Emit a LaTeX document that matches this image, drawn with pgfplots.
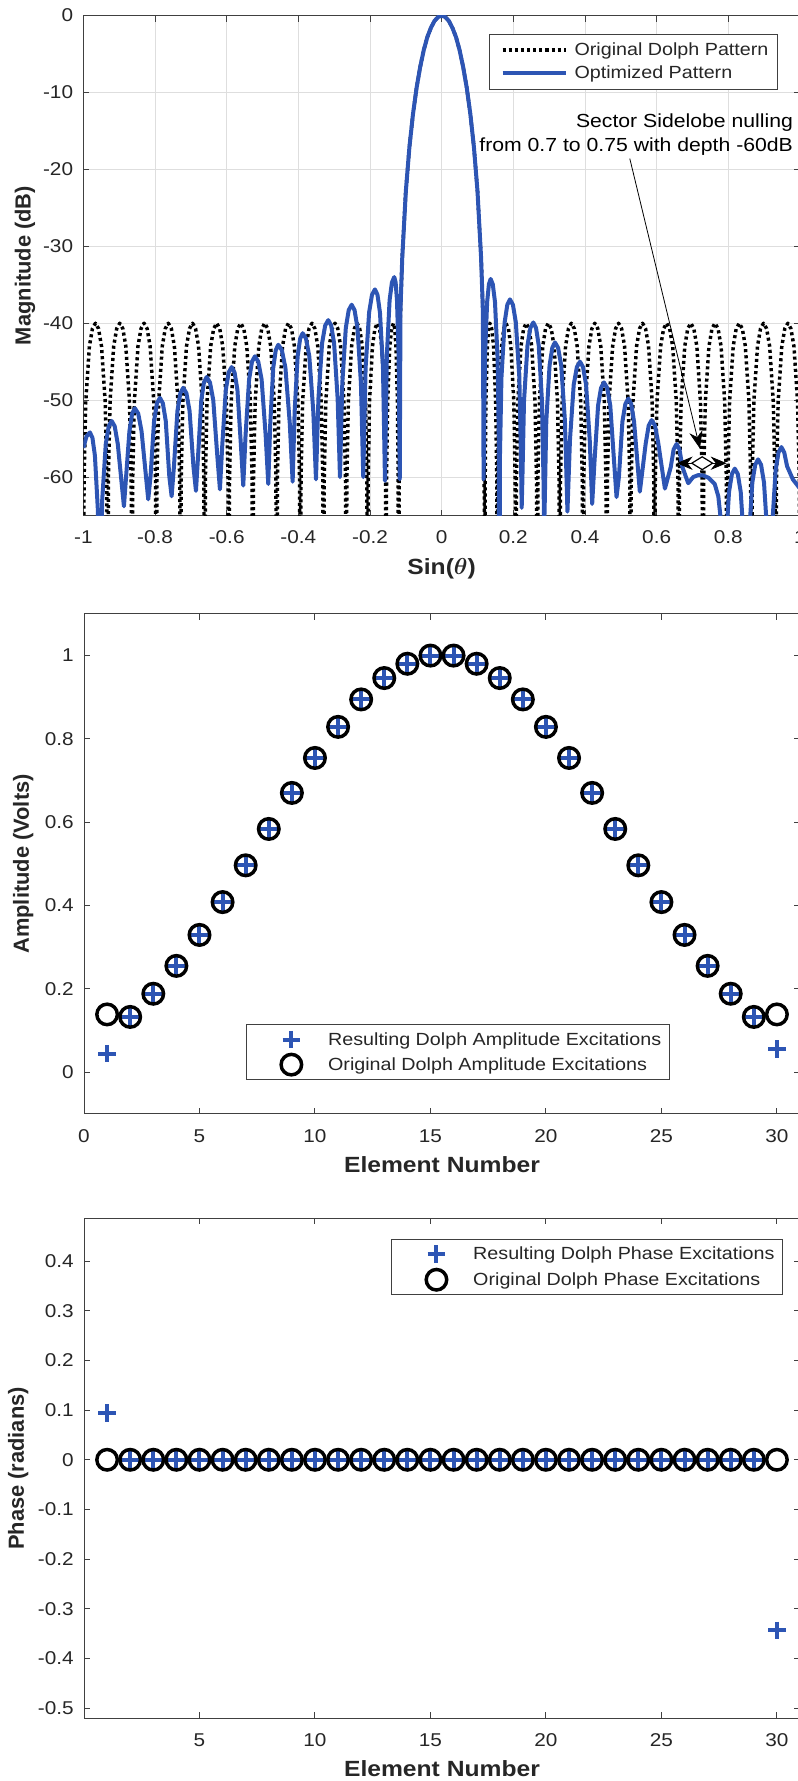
\documentclass[border=0pt]{standalone}
\usepackage{pgfplots}
\pgfplotsset{compat=1.18}
\usepackage{fontspec}
\setmainfont{Liberation Sans}[FakeStretch=1.12]
\newfontfamily\plainsans{Liberation Sans}
\usetikzlibrary{arrows.meta,shapes.geometric}
\definecolor{myblue}{RGB}{45,85,180}
\definecolor{axgray}{RGB}{64,64,64}
\definecolor{tickgray}{RGB}{38,38,38}
\definecolor{gridgray}{RGB}{222,222,222}
\newcommand{\tickfont}{\fontsize{13.9}{16}\selectfont}
\newcommand{\labfont}{\fontsize{16.5}{19}\selectfont\bfseries}
\newcommand{\ylabfont}{\plainsans\fontsize{16.4}{19}\selectfont\bfseries}
\newcommand{\legfont}{\fontsize{13.2}{15}\selectfont}
\pgfplotsset{
  myax/.style={
    scale only axis, width=537pt, height=375pt, anchor=south west,
    axis line style={axgray, line width=0.75pt},
    tick style={axgray, line width=0.75pt},
    major tick length=4.5pt, tick align=inside, tick pos=both,
    tick label style={font=\tickfont, color=tickgray},
    /pgf/number format/assume math mode=true,
    yticklabel style={anchor=east, xshift=-7.5pt, inner sep=0pt},
    label style={color=tickgray},
    xlabel style={font=\labfont},
    ylabel style={font=\ylabfont},
    legend cell align=left,
  },
  marklegend/.style={legend image code/.code={\path (0pt,-1pt) (54pt,1pt); \draw[##1,overlay] plot coordinates {(28.8pt,0pt)};}},
}
\begin{document}
\begin{tikzpicture}
% ---------------- top: patterns ----------------
\begin{axis}[myax, at={(62.5pt,949.1pt)}, width=537.5pt,
  xmin=-1, xmax=1, ymin=-65, ymax=0,
  xtick={-1,-0.8,-0.6,-0.4,-0.2,0,0.2,0.4,0.6,0.8,1},
  ytick={-60,-50,-40,-30,-20,-10,0},
  xticklabel style={anchor=center, yshift=-16pt},
  grid=major, grid style={gridgray, line width=0.6pt},
  xlabel={Sin({\boldmath$\theta$})}, ylabel={Magnitude (dB)},
  xlabel style={at={(axis description cs:0.5,-0.1056)}, anchor=center},
  ylabel style={at={(axis description cs:-0.0813,0.5)}, anchor=center},
  legend style={at={(0.9697,0.9636)}, anchor=north east, draw=axgray, line width=0.75pt,
    fill=white, font=\legfont, text=tickgray, inner xsep=5pt, inner ysep=3.5pt, row sep=0.25pt,
    nodes={inner sep=2pt, text height=10.6pt, text depth=2.4pt}},
  legend image code/.code={\path (0pt,-1pt) (54pt,1pt); \draw[#1] (3.5pt,0pt) -- (51pt,0pt);},
]
\addplot[black, line width=2.6pt, dash pattern=on 2.3pt off 2.3pt, line join=round] coordinates {
(-1,-100)
(-0.9980,-60.5) (-0.9932,-50.2) (-0.9831,-43) (-0.9746,-40.7) (-0.9661,-40) (-0.9576,-40.7) (-0.9492,-43) (-0.9390,-50.2) (-0.9342,-60.5) (-0.9322,-100)
(-0.9302,-60.5) (-0.9254,-50.2) (-0.9153,-43) (-0.9068,-40.7) (-0.8983,-40) (-0.8898,-40.7) (-0.8814,-43) (-0.8712,-50.2) (-0.8664,-60.5) (-0.8644,-100)
(-0.8624,-60.5) (-0.8576,-50.2) (-0.8475,-43) (-0.8390,-40.7) (-0.8305,-40) (-0.8220,-40.7) (-0.8136,-43) (-0.8034,-50.2) (-0.7986,-60.5) (-0.7966,-100)
(-0.7946,-60.5) (-0.7898,-50.2) (-0.7797,-43) (-0.7713,-40.7) (-0.7628,-40) (-0.7544,-40.7) (-0.7459,-43) (-0.7358,-50.2) (-0.7310,-60.5) (-0.7290,-100)
(-0.7270,-60.5) (-0.7222,-50.2) (-0.7121,-43) (-0.7037,-40.7) (-0.6952,-40) (-0.6868,-40.7) (-0.6784,-43) (-0.6682,-50.2) (-0.6635,-60.5) (-0.6615,-100)
(-0.6595,-60.5) (-0.6548,-50.2) (-0.6447,-43) (-0.6362,-40.7) (-0.6278,-40) (-0.6194,-40.7) (-0.6110,-43) (-0.6008,-50.2) (-0.5961,-60.5) (-0.5941,-100)
(-0.5921,-60.5) (-0.5874,-50.2) (-0.5774,-43) (-0.5690,-40.7) (-0.5606,-40) (-0.5522,-40.7) (-0.5439,-43) (-0.5338,-50.2) (-0.5291,-60.5) (-0.5271,-100)
(-0.5251,-60.5) (-0.5204,-50.2) (-0.5104,-43) (-0.5021,-40.7) (-0.4937,-40) (-0.4854,-40.7) (-0.4771,-43) (-0.4671,-50.2) (-0.4625,-60.5) (-0.4605,-100)
(-0.4585,-60.5) (-0.4539,-50.2) (-0.4440,-43) (-0.4357,-40.7) (-0.4274,-40) (-0.4192,-40.7) (-0.4110,-43) (-0.4011,-50.2) (-0.3965,-60.5) (-0.3945,-100)
(-0.3925,-60.5) (-0.3880,-50.2) (-0.3782,-43) (-0.3701,-40.7) (-0.3619,-40) (-0.3538,-40.7) (-0.3458,-43) (-0.3361,-50.2) (-0.3315,-60.5) (-0.3296,-100)
(-0.3277,-60.5) (-0.3232,-50.2) (-0.3137,-43) (-0.3057,-40.7) (-0.2977,-40) (-0.2899,-40.7) (-0.2821,-43) (-0.2727,-50.2) (-0.2684,-60.5) (-0.2665,-100)
(-0.2647,-60.5) (-0.2604,-50.2) (-0.2513,-43) (-0.2436,-40.7) (-0.2360,-40) (-0.2287,-40.7) (-0.2214,-43) (-0.2126,-50.2) (-0.2086,-60.5) (-0.2068,-100)
(-0.2052,-60.5) (-0.2013,-50.2) (-0.1931,-43) (-0.1863,-40.7) (-0.1794,-40) (-0.1733,-40.7) (-0.1671,-43) (-0.1597,-50.2) (-0.1563,-60.5) (-0.1548,-100)
(-0.1539,-60.5) (-0.1507,-50.2) (-0.1447,-43) (-0.1396,-40.7) (-0.1345,-40) (-0.1310,-40.7) (-0.1276,-43) (-0.1234,-50.2) (-0.1214,-60.5) (-0.1206,-100)
(-0.118,-46.3) (-0.1157,-40) (-0.114,-36.9) (-0.11,-31.5) (-0.10,-22.85) (-0.09,-17.1) (-0.08,-12.8) (-0.07,-9.4) (-0.06,-6.7) (-0.05,-4.5) (-0.04,-2.8) (-0.03,-1.6) (-0.02,-0.7) (-0.01,-0.2)
(0,0)
(0.01,-0.2) (0.02,-0.7) (0.03,-1.6) (0.04,-2.8) (0.05,-4.5) (0.06,-6.7) (0.07,-9.4) (0.08,-12.8) (0.09,-17.1) (0.10,-22.85) (0.11,-31.5) (0.114,-36.9) (0.1157,-40) (0.118,-46.3) (0.1206,-100)
(0.1214,-60.5) (0.1234,-50.2) (0.1276,-43) (0.1310,-40.7) (0.1345,-40) (0.1396,-40.7) (0.1447,-43) (0.1507,-50.2) (0.1539,-60.5) (0.1548,-100)
(0.1563,-60.5) (0.1597,-50.2) (0.1671,-43) (0.1733,-40.7) (0.1794,-40) (0.1863,-40.7) (0.1931,-43) (0.2013,-50.2) (0.2052,-60.5) (0.2068,-100)
(0.2086,-60.5) (0.2126,-50.2) (0.2214,-43) (0.2287,-40.7) (0.2360,-40) (0.2436,-40.7) (0.2513,-43) (0.2604,-50.2) (0.2647,-60.5) (0.2665,-100)
(0.2684,-60.5) (0.2727,-50.2) (0.2821,-43) (0.2899,-40.7) (0.2977,-40) (0.3057,-40.7) (0.3137,-43) (0.3232,-50.2) (0.3277,-60.5) (0.3296,-100)
(0.3315,-60.5) (0.3361,-50.2) (0.3458,-43) (0.3538,-40.7) (0.3619,-40) (0.3701,-40.7) (0.3782,-43) (0.3880,-50.2) (0.3925,-60.5) (0.3945,-100)
(0.3965,-60.5) (0.4011,-50.2) (0.4110,-43) (0.4192,-40.7) (0.4274,-40) (0.4357,-40.7) (0.4440,-43) (0.4539,-50.2) (0.4585,-60.5) (0.4605,-100)
(0.4625,-60.5) (0.4671,-50.2) (0.4771,-43) (0.4854,-40.7) (0.4937,-40) (0.5021,-40.7) (0.5104,-43) (0.5204,-50.2) (0.5251,-60.5) (0.5271,-100)
(0.5291,-60.5) (0.5338,-50.2) (0.5439,-43) (0.5522,-40.7) (0.5606,-40) (0.5690,-40.7) (0.5774,-43) (0.5874,-50.2) (0.5921,-60.5) (0.5941,-100)
(0.5961,-60.5) (0.6008,-50.2) (0.6110,-43) (0.6194,-40.7) (0.6278,-40) (0.6362,-40.7) (0.6447,-43) (0.6548,-50.2) (0.6595,-60.5) (0.6615,-100)
(0.6635,-60.5) (0.6682,-50.2) (0.6784,-43) (0.6868,-40.7) (0.6952,-40) (0.7037,-40.7) (0.7121,-43) (0.7222,-50.2) (0.7270,-60.5) (0.7290,-100)
(0.7310,-60.5) (0.7358,-50.2) (0.7459,-43) (0.7544,-40.7) (0.7628,-40) (0.7713,-40.7) (0.7797,-43) (0.7898,-50.2) (0.7946,-60.5) (0.7966,-100)
(0.7986,-60.5) (0.8034,-50.2) (0.8136,-43) (0.8220,-40.7) (0.8305,-40) (0.8390,-40.7) (0.8475,-43) (0.8576,-50.2) (0.8624,-60.5) (0.8644,-100)
(0.8664,-60.5) (0.8712,-50.2) (0.8814,-43) (0.8898,-40.7) (0.8983,-40) (0.9068,-40.7) (0.9153,-43) (0.9254,-50.2) (0.9302,-60.5) (0.9322,-100)
(0.9342,-60.5) (0.9390,-50.2) (0.9492,-43) (0.9576,-40.7) (0.9661,-40) (0.9746,-40.7) (0.9831,-43) (0.9932,-50.2) (0.9980,-60.5) (1,-100)
};
\addlegendentry{Original Dolph Pattern}
\addplot[myblue, line width=3pt, line join=round] coordinates {
(-1,-56.2) (-0.991,-54.7) (-0.9816,-54.2) (-0.9746,-54.9) (-0.9677,-57.2) (-0.9593,-64.4) (-0.9554,-74.7) (-0.9537,-85)
(-0.9517,-73.2) (-0.9472,-62.9) (-0.9374,-55.7) (-0.9292,-53.4) (-0.921,-52.7) (-0.9124,-53.4) (-0.9039,-55.7) (-0.8867,-63.8)
(-0.8714,-54.05) (-0.8638,-51.75) (-0.8561,-51.05) (-0.8468,-51.75) (-0.8375,-54.05) (-0.8189,-62.9)
(-0.8124,-59.9) (-0.8026,-52.7) (-0.7945,-50.4) (-0.7863,-49.7) (-0.7781,-50.4) (-0.7700,-52.7) (-0.7601,-59.9) (-0.7536,-62.5)
(-0.7471,-58.6) (-0.7374,-51.4) (-0.7293,-49.1) (-0.7212,-48.4) (-0.7123,-49.1) (-0.7035,-51.4) (-0.6928,-58.6) (-0.6857,-61.8)
(-0.6797,-57.2) (-0.6708,-50.0) (-0.6634,-47.7) (-0.6559,-47.0) (-0.6466,-47.7) (-0.6374,-50.0) (-0.6262,-57.2) (-0.6188,-61.6)
(-0.6123,-55.9) (-0.6025,-48.7) (-0.5943,-46.4) (-0.5861,-45.7) (-0.5780,-46.4) (-0.5699,-48.7) (-0.5602,-55.9) (-0.5537,-61.1)
(-0.5472,-54.5) (-0.5374,-47.3) (-0.5293,-45.0) (-0.5211,-44.3) (-0.5118,-45.0) (-0.5025,-47.3) (-0.4913,-54.5) (-0.4839,-60.9)
(-0.4783,-53.0) (-0.4700,-45.8) (-0.4630,-43.5) (-0.4560,-42.8) (-0.4460,-43.5) (-0.4360,-45.8) (-0.4239,-53.0) (-0.4159,-60.6)
(-0.4103,-51.5) (-0.4019,-44.3) (-0.3949,-42.0) (-0.3879,-41.3) (-0.3786,-42.0) (-0.3694,-44.3) (-0.3582,-51.5) (-0.3508,-60.3)
(-0.3439,-49.8) (-0.3337,-42.6) (-0.3251,-40.3) (-0.3165,-39.6) (-0.3083,-40.3) (-0.3002,-42.6) (-0.2903,-49.8) (-0.2838,-60.0)
(-0.2773,-47.8) (-0.2675,-40.6) (-0.2594,-38.3) (-0.2512,-37.6) (-0.2431,-38.3) (-0.2350,-40.6) (-0.2253,-47.8) (-0.2188,-60.0)
(-0.2123,-45.8) (-0.2025,-38.6) (-0.1944,-36.3) (-0.1862,-35.6) (-0.1792,-36.3) (-0.1722,-38.6) (-0.1638,-45.8) (-0.1582,-60.5)
(-0.1530,-44.2) (-0.1453,-37.0) (-0.1388,-34.7) (-0.1323,-34.0) (-0.1285,-34.7) (-0.1247,-37.0) (-0.1201,-44.2) (-0.117,-60.3)
(-0.115,-38.5) (-0.114,-36.9) (-0.11,-31.5) (-0.10,-22.85) (-0.09,-17.1) (-0.08,-12.8) (-0.07,-9.4) (-0.06,-6.7) (-0.05,-4.5) (-0.04,-2.8) (-0.03,-1.6) (-0.02,-0.7) (-0.01,-0.2)
(0,0)
(0.01,-0.2) (0.02,-0.7) (0.03,-1.6) (0.04,-2.8) (0.05,-4.5) (0.06,-6.7) (0.07,-9.4) (0.08,-12.8) (0.09,-17.1) (0.10,-22.85) (0.11,-31.5) (0.114,-36.9) (0.115,-38.5) (0.117,-60.3)
(0.1209,-44.45) (0.1269,-37.25) (0.1318,-34.95) (0.1367,-34.25) (0.1427,-34.95) (0.1488,-37.25) (0.1560,-44.45) (0.1594,-54.75) (0.1608,-85)
(0.1626,-57.4) (0.1668,-47.1) (0.1757,-39.9) (0.1832,-37.6) (0.1906,-36.9) (0.1988,-37.6) (0.2070,-39.9) (0.2168,-47.1) (0.2213,-57.4) (0.2233,-64)
(0.2252,-60.4) (0.2298,-50.1) (0.2395,-42.9) (0.2476,-40.6) (0.2557,-39.9) (0.2633,-40.6) (0.2709,-42.9) (0.2799,-50.1) (0.2842,-60.4) (0.2860,-67)
(0.2878,-63.0) (0.2920,-52.7) (0.3011,-45.5) (0.3087,-43.2) (0.3162,-42.5) (0.3249,-43.2) (0.3336,-45.5) (0.3440,-52.7) (0.351,-64.5)
(0.358,-55.2) (0.3685,-48.0) (0.3773,-45.7) (0.3860,-45.0) (0.3945,-45.7) (0.4030,-48.0) (0.4132,-55.2) (0.420,-63.5)
(0.4266,-57.9) (0.4365,-50.7) (0.4448,-48.4) (0.4530,-47.7) (0.4618,-48.4) (0.4705,-50.7) (0.4810,-57.9) (0.488,-62.6)
(0.4946,-60.0) (0.5044,-52.8) (0.5126,-50.5) (0.5208,-49.8) (0.5289,-50.5) (0.5369,-52.8) (0.553,-61.9)
(0.5695,-55.6) (0.5778,-53.3) (0.586,-52.6) (0.5953,-53.3) (0.6045,-55.6) (0.623,-61.5)
(0.6393,-58.7) (0.6474,-56.4) (0.6555,-55.7) (0.6636,-56.4) (0.6718,-58.7) (0.688,-60.8)
(0.702,-60.0) (0.716,-59.75) (0.73,-59.8) (0.745,-60.1) (0.762,-60.9) (0.772,-62.5) (0.780,-66) (0.786,-75)
(0.7924,-69.1) (0.802,-61.9) (0.810,-59.6) (0.818,-58.9) (0.8263,-59.6) (0.8345,-61.9) (0.8444,-69.1) (0.851,-80)
(0.8574,-67.9) (0.867,-60.7) (0.875,-58.4) (0.883,-57.7) (0.8913,-58.4) (0.8995,-60.7) (0.9094,-67.9) (0.916,-80)
(0.9224,-66.3) (0.932,-59.1) (0.940,-56.8) (0.948,-56.1) (0.956,-56.8) (0.964,-58.6) (0.98,-60.3) (1,-61.5)
};
\addlegendentry{Optimized Pattern}
\node[anchor=east, align=right, font=\fontsize{14.2}{18}\selectfont, text=black, inner sep=0pt]
  at (axis cs:0.981,-15.45) {Sector Sidelobe nulling\\from 0.7 to 0.75 with depth -60dB};
\draw[-{Stealth[length=13pt,width=10pt]}, line width=0.6pt] (axis cs:0.525,-18.6) -- (axis cs:0.7209,-56.3);
\draw[{Stealth[length=12pt,width=10pt]}-{Stealth[length=12pt,width=10pt]}, line width=0.6pt]
  (axis cs:0.6558,-58.2) -- (axis cs:0.7953,-58.2);
\node[draw, diamond, line width=0.9pt, fill=white, minimum width=16pt, minimum height=10pt, inner sep=0pt]
  at (axis cs:0.727,-58.2) {};
\end{axis}
% ---------------- middle: amplitudes ----------------
\begin{axis}[myax, at={(63pt,500.3pt)},
  xmin=0, xmax=31, ymin=-0.1, ymax=1.1,
  xtick={0,5,10,15,20,25,30}, ytick={0,0.2,0.4,0.6,0.8,1},
  xticklabel style={anchor=center, yshift=-17pt},
  xlabel={Element Number}, ylabel={Amplitude (Volts)},
  xlabel style={at={(axis description cs:0.5,-0.102)}, anchor=center},
  ylabel style={at={(axis description cs:-0.0848,0.5)}, anchor=center},
  legend style={at={(0.8184,0.18)}, anchor=north east, draw=axgray, line width=0.75pt,
    fill=white, font=\legfont, text=tickgray, inner xsep=4.2pt, inner ysep=2.9pt, row sep=1.75pt,
    nodes={inner sep=2pt, text height=10.6pt, text depth=2.4pt}},
]
\addplot[only marks, mark=+, mark size=6.6pt, myblue, mark options={line width=3pt}, marklegend] coordinates {
(1,0.0446) (2,0.1328) (3,0.1884) (4,0.2553) (5,0.3296) (6,0.4084) (7,0.4966) (8,0.5839) (9,0.6704) (10,0.7543)
(11,0.8289) (12,0.8948) (13,0.9461) (14,0.9804) (15,1.0) (16,1.0) (17,0.9804) (18,0.9461) (19,0.8948) (20,0.8289)
(21,0.7543) (22,0.6704) (23,0.5839) (24,0.4966) (25,0.4084) (26,0.3296) (27,0.2553) (28,0.1884) (29,0.1328) (30,0.0558)
};
\addlegendentry{Resulting Dolph Amplitude Excitations}
\addplot[only marks, mark=o, mark size=7.7pt, black, mark options={line width=2.6pt}, marklegend] coordinates {
(1,0.1388) (2,0.1328) (3,0.1884) (4,0.2553) (5,0.3296) (6,0.4084) (7,0.4966) (8,0.5839) (9,0.6704) (10,0.7543)
(11,0.8289) (12,0.8948) (13,0.9461) (14,0.9804) (15,1.0) (16,1.0) (17,0.9804) (18,0.9461) (19,0.8948) (20,0.8289)
(21,0.7543) (22,0.6704) (23,0.5839) (24,0.4966) (25,0.4084) (26,0.3296) (27,0.2553) (28,0.1884) (29,0.1328) (30,0.1388)
};
\addlegendentry{Original Dolph Amplitude Excitations}
\end{axis}
% ---------------- bottom: phases ----------------
\begin{axis}[myax, at={(63pt,46.9pt)},
  xmin=0, xmax=31, ymin=-0.521, ymax=0.486,
  xtick={5,10,15,20,25,30}, ytick={-0.5,-0.4,-0.3,-0.2,-0.1,0,0.1,0.2,0.3,0.4},
  xticklabel style={anchor=center, yshift=-16pt},
  xlabel={Element Number}, ylabel={Phase (radians)},
  xlabel style={at={(axis description cs:0.5,-0.0996)}, anchor=center},
  ylabel style={at={(axis description cs:-0.0918,0.5)}, anchor=center},
  legend style={at={(0.9767,0.9598)}, anchor=north east, draw=axgray, line width=0.75pt,
    fill=white, font=\legfont, text=tickgray, inner xsep=4.2pt, inner ysep=2.7pt, row sep=2.3pt,
    nodes={inner sep=2pt, text height=10.6pt, text depth=2.4pt}},
]
\addplot[only marks, mark=+, mark size=6.6pt, myblue, mark options={line width=3pt}, marklegend] coordinates {
(1,0.094) (2,0) (3,0) (4,0) (5,0) (6,0) (7,0) (8,0) (9,0) (10,0) (11,0) (12,0) (13,0) (14,0) (15,0)
(16,0) (17,0) (18,0) (19,0) (20,0) (21,0) (22,0) (23,0) (24,0) (25,0) (26,0) (27,0) (28,0) (29,0) (30,-0.3436)
};
\addlegendentry{Resulting Dolph Phase Excitations}
\addplot[only marks, mark=o, mark size=7.7pt, black, mark options={line width=2.6pt}, marklegend] coordinates {
(1,0) (2,0) (3,0) (4,0) (5,0) (6,0) (7,0) (8,0) (9,0) (10,0) (11,0) (12,0) (13,0) (14,0) (15,0)
(16,0) (17,0) (18,0) (19,0) (20,0) (21,0) (22,0) (23,0) (24,0) (25,0) (26,0) (27,0) (28,0) (29,0) (30,0)
};
\addlegendentry{Original Dolph Phase Excitations}
\end{axis}
\pgfresetboundingbox
\path (0pt,0pt) rectangle (598.5pt,1335.75pt);
\end{tikzpicture}
\end{document}
